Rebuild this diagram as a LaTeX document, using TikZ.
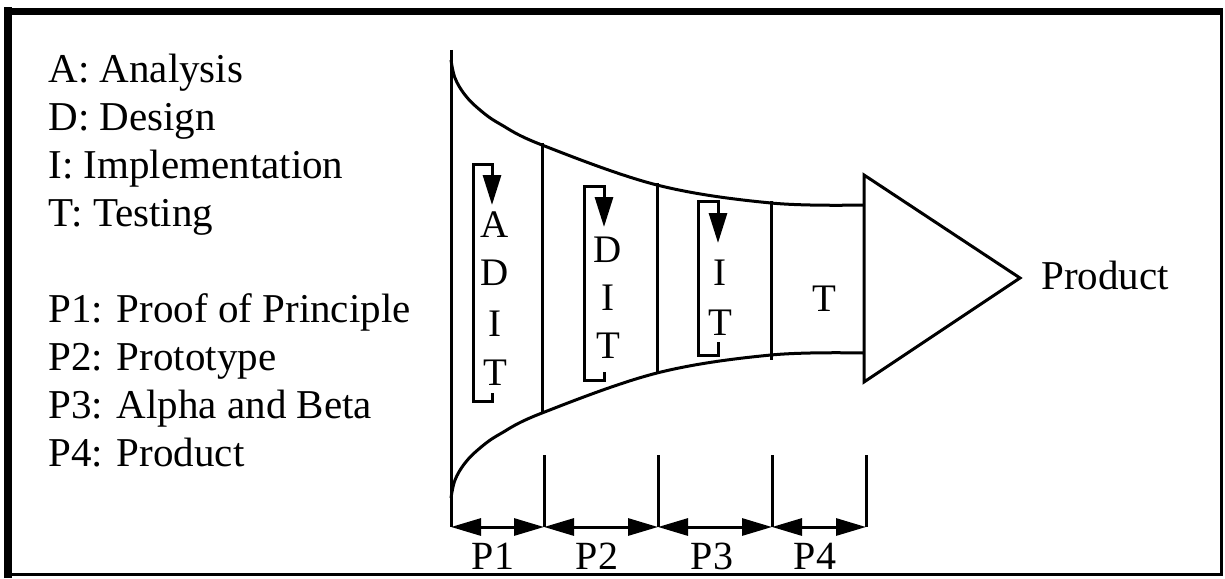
\documentclass[tikz,border=0pt]{standalone}
\usepackage{fontspec}
\setmainfont{Liberation Serif}
\usetikzlibrary{arrows.meta}
\begin{document}
\begin{tikzpicture}[x=1pt,y=-1pt,line width=3pt,line join=miter,
  lbl/.style={inner sep=0pt,anchor=base west,font=\fontsize{41}{48}\selectfont},
  ltr/.style={inner sep=0pt,anchor=base,font=\fontsize{39}{46}\selectfont},
  tip/.style={-{Triangle[length=30pt,width=18pt]}},
  dim/.style={{Triangle[length=30pt,width=17pt]}-{Triangle[length=30pt,width=17pt]}}]
\useasboundingbox (0,0) rectangle (1225,578);
% frame
\draw[line width=3pt] (8,11.5) rectangle (1221,574.5);
\draw[line width=8pt] (8,578) -- (8,7.5);
\draw[line width=7pt] (4,11.5) -- (1222.5,11.5);
% legend
\node[lbl] (la) at (47,82) {A: Analysis};
\node[lbl] (ld) at (47,130) {D: Design};
\node[lbl] (li) at (47,178) {I: Implementation};
\node[lbl] (lt) at (47,226) {T: Testing};
\node[lbl] (lp1) at (47,322) {P1: Proof of Principle};
\node[lbl] (lp2) at (47,370) {P2: Prototype};
\node[lbl] (lp3) at (47,418) {P3: Alpha and Beta};
\node[lbl] (lp4) at (47,466) {P4: Product};
% funnel
\coordinate (ltop) at (451,50);
\coordinate (lbot) at (451,527);
\draw (ltop) -- (lbot);
\draw plot[smooth,tension=0.6] coordinates {(451,60) (455,78) (465,95) (480,110) (500,124) (542,145) (657,185) (771,203) (863,205)};
\draw plot[smooth,tension=0.6] coordinates {(451,498) (455,480) (465,463) (480,448) (500,434) (542,413) (657,373) (771,355) (863,353)};
\coordinate (v1a) at (542,143); \coordinate (v1b) at (542,414);
\coordinate (v2a) at (657,183); \coordinate (v2b) at (657,374);
\coordinate (v3a) at (771,201); \coordinate (v3b) at (771,360);
\draw (v1a) -- (v1b);
\draw (v2a) -- (v2b);
\draw (v3a) -- (v3b);
% big arrow
\coordinate (ta) at (864,175);
\coordinate (tb) at (1020,278);
\coordinate (tc) at (864,382);
\draw (ta) -- (tb) -- (tc) -- cycle;
\node[lbl] (prod) at (1040,289) {Product};
% phase letters
\node[ltr] (a1) at (495,237) {A};
\node[ltr] (d1) at (495,285) {D};
\node[ltr] (i1) at (495,336) {I};
\node[ltr] (t1) at (495,385) {T};
\node[ltr] (d2) at (608,262) {D};
\node[ltr] (i2) at (608,310) {I};
\node[ltr] (t2) at (608,358) {T};
\node[ltr] (i3) at (720,285) {I};
\node[ltr] (t3) at (720,335) {T};
\node[ltr] (t4) at (824,311) {T};
% iteration brackets
\coordinate (b1s) at (492,393); \coordinate (b1e) at (492,205);
\draw[tip] (b1s) -- (492,401) -- (473,401) -- (473,164) -- (492,164) -- (b1e);
\coordinate (b2s) at (604,372); \coordinate (b2e) at (604,227);
\draw[tip] (b2s) -- (604,380) -- (584,380) -- (584,186) -- (604,186) -- (b2e);
\coordinate (b3s) at (718,342); \coordinate (b3e) at (718,243);
\draw[tip] (b3s) -- (718,355) -- (698,355) -- (698,201) -- (718,201) -- (b3e);
% phase dimension lines
\coordinate (k0) at (451,527);
\coordinate (k1) at (544,527);
\coordinate (k2) at (658,527);
\coordinate (k3) at (772,527);
\coordinate (k4) at (866,527);
\foreach \k in {k1,k2,k3,k4} \draw (\k) -- ++(0,-72);
\draw[dim] (k0) -- (k1);
\draw[dim] (k1) -- (k2);
\draw[dim] (k2) -- (k3);
\draw[dim] (k3) -- (k4);
\node[ltr,font=\fontsize{40}{46}\selectfont] (p1) at (493,569) {P1};
\node[ltr,font=\fontsize{40}{46}\selectfont] (p2) at (597,569) {P2};
\node[ltr,font=\fontsize{40}{46}\selectfont] (p3) at (712,569) {P3};
\node[ltr,font=\fontsize{40}{46}\selectfont] (p4) at (815,569) {P4};
\end{tikzpicture}
\end{document}
